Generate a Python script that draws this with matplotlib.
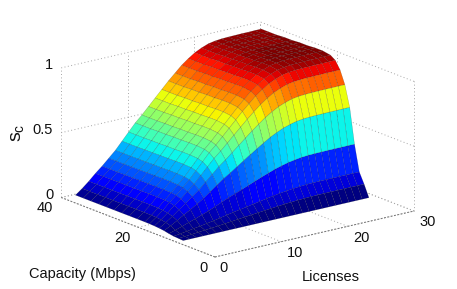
import numpy as np
import matplotlib
matplotlib.use('Agg')
import matplotlib.pyplot as plt
from mpl_toolkits.mplot3d import proj3d

plt.rcParams['font.family'] = ['Liberation Sans', 'DejaVu Sans']
plt.rcParams['mathtext.default'] = 'regular'

# Values. The two silhouette edges were read; the inner
# surface is modelled as the product of these two read profiles.
licenses = list(range(1, 30))
capacity = [10, 11.25, 12.5, 13.75, 15, 16.25, 17.5, 18.75, 20, 22, 24, 26, 28, 30, 32, 34, 36, 38]
z_by_license = [.03, .07, .115, .165, .21, .26, .31, .37, .43, .49, .54, .595, .65, .705, .76, .81, .86, .90, .935, .96,
                .98, .99, .995, .997, .998, .999, .999, 1.0, 1.0]
z_by_capacity = [0, .09, .17, .37, .64, .80, .90, .96, .985, .995, .995, .99, .99, .985, .985, .98, .98, .98]
license_ticks = [0, 10, 20, 30]
capacity_ticks = [0, 20, 40]
z_ticks = [0, 0.5, 1]
xlabel_text = 'Licenses'
ylabel_text = 'Capacity (Mbps)'
zlabel_text = r'$s_c$'

W, H = 457, 289
fig = plt.figure(figsize=(W / 100, H / 100), dpi=100)
ax = fig.add_axes([0, 0, 1, 1], projection='3d', proj_type='ortho', computed_zorder=False)
ax.set_xlim(0, 30, view_margin=0)
ax.set_ylim(0, 40, view_margin=0)
ax.set_zlim(0, 1, view_margin=0)
ax.view_init(elev=17.4, azim=-127.7)
ax.set_axis_off()
ax.patch.set_alpha(0)


def px(x, y, z):
    ax.apply_aspect()
    a, b, _ = proj3d.proj_transform(x, y, z, ax.get_proj())
    return ax.transData.transform((a, b))


# fit the box to the reference's pixel corners
zoom = 1.0
ax.set_box_aspect((1, 1, 0.54), zoom=zoom)
span = px(30, 0, 0)[0] - px(0, 0, 0)[0]
zoom *= 199 / span
ax.set_box_aspect((1, 1, 0.54), zoom=zoom)
origin = px(0, 0, 0)
ax.set_position([(215 - origin[0]) / W, ((H - 257) - origin[1]) / H, 1, 1])

L, C = np.meshgrid(licenses, capacity)
Z = np.outer(z_by_capacity, z_by_license)
cmap = plt.get_cmap('jet', 64)
fc = cmap(Z)  # plot_surface uses the low-index corner of each cell

gc = '#a6a6a6'
kw = dict(color=gc, lw=0.7, ls=(0, (1, 2.5)), zorder=1, clip_on=False)
for t in z_ticks:
    ax.plot([0, 30], [40, 40], [t, t], **kw)
    ax.plot([30, 30], [0, 40], [t, t], **kw)
for t in license_ticks:
    ax.plot([t, t], [40, 40], [0, 1], **kw)
    ax.plot([t, t], [0, 40], [0, 0], **kw)
for t in capacity_ticks:
    ax.plot([30, 30], [t, t], [0, 1], **kw)
    ax.plot([0, 30], [t, t], [0, 0], **kw)
fkw = dict(color='#777777', lw=0.7, ls=(0, (2, 1.5)), zorder=1, clip_on=False)
ax.plot([0, 30], [0, 0], [0, 0], **fkw)
ax.plot([0, 0], [0, 40], [0, 0], **fkw)

surf = ax.plot_surface(L, C, Z, facecolors=fc, rstride=1, cstride=1, shade=False,
                       edgecolor=(0, 0, 0, 0.3), linewidth=0.3, zorder=2, antialiased=True)
surf.set_clip_on(False)


def label(x, y, s, size=10.5, **k):
    fig.text(x / W, 1 - y / H, s, ha='center', va='center', fontsize=size, color='#111111', **k)


for t, p in zip(z_ticks, [(49, 195), (43, 130), (49, 65)]):
    label(*p, f'{t:g}')
for t, p in zip(capacity_ticks, [(203, 268), (122, 238), (45, 208)]):
    label(*p, f'{t:g}')
for t, p in zip(license_ticks, [(223, 268), (295, 253), (361, 238), (428, 222)]):
    label(*p, f'{t:g}')
label(331, 277, xlabel_text)
label(82, 274, ylabel_text)
label(18, 133, zlabel_text, size=14, rotation=90)

fig.savefig('out.png', dpi=100)
